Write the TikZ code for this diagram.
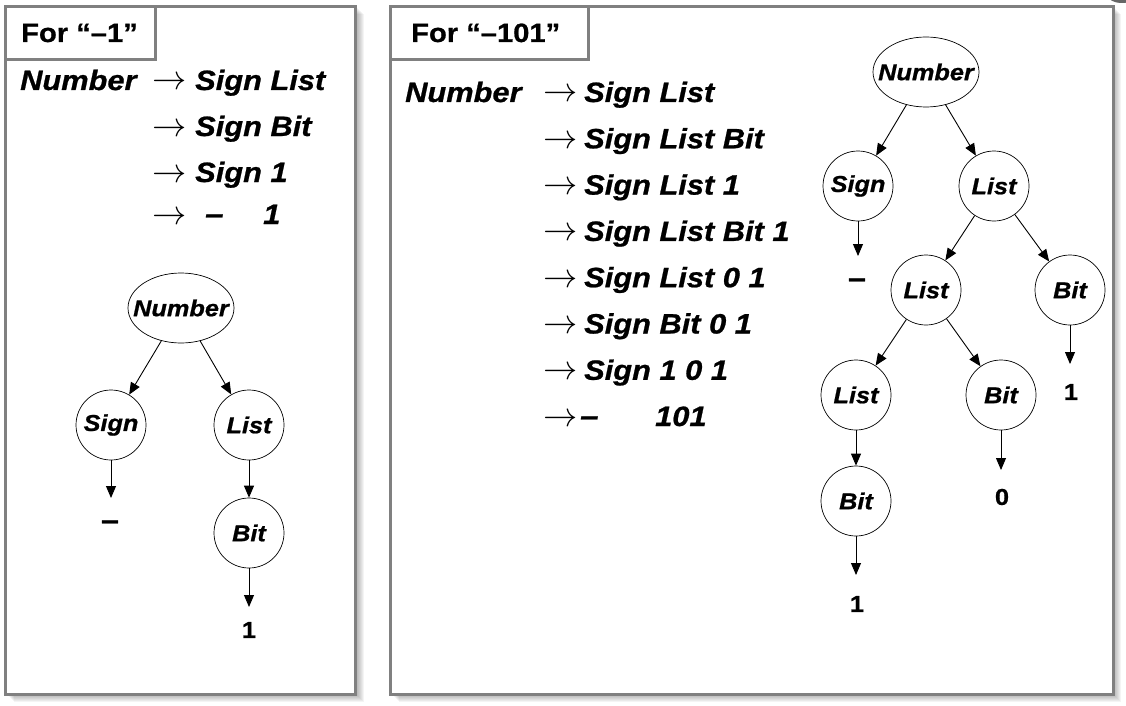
\documentclass[tikz,border=0pt]{standalone}
\usepackage{fontspec}
\newfontfamily\af[FakeStretch=1.1,FakeBold=0.8]{Liberation Sans}
\usetikzlibrary{arrows.meta,shapes.geometric}
\definecolor{bord}{HTML}{808080}
\begin{document}
\begin{tikzpicture}[x=1pt,y=-1pt,
  tlab/.style={inner sep=0pt,font=\af\bfseries\itshape\fontsize{23}{23}\selectfont},
  nt/.style={circle,draw,line width=0.7pt,minimum size=70pt,inner sep=0pt,font=\af\bfseries\itshape\fontsize{23}{23}\selectfont},
  ntop/.style={ellipse,draw,line width=0.7pt,minimum width=106pt,minimum height=70pt,inner sep=0pt},
  term/.style={inner sep=0pt,font=\af\bfseries\fontsize{23}{23}\selectfont},
  tdash/.style={inner sep=0pt,font=\af\bfseries\fontsize{29}{29}\selectfont},
  arr/.style={line width=0.9pt,-{Triangle[length=12pt,width=10pt]}},
  der/.style={anchor=base west,inner sep=0pt,font=\af\bfseries\itshape\fontsize{28}{28}\selectfont},
  ddash/.style={anchor=base west,inner sep=0pt,font=\af\bfseries\itshape\fontsize{30}{30}\selectfont},
  ra/.style={anchor=base west,inner sep=0pt,scale=1.65,font=\fontsize{20}{20}\selectfont},
  ttl/.style={anchor=base west,inner sep=0pt,font=\af\bfseries\fontsize{26.5}{26.5}\selectfont},
  panel/.style={draw=bord,line width=3pt,fill=white},
  tbox/.style={draw=bord,line width=3pt},
  shad/.style={fill=black,opacity=0.045}
]
\useasboundingbox (0,0) rectangle (1126,706);
% top-right blob
\fill[black!75,opacity=0.8] (1122,-4) ellipse [x radius=14pt,y radius=7pt];
% shadows
\foreach \k in {1,...,8}{
  \fill[shad] (5.5+\k,6.5+\k) rectangle (355.5+\k,694+\k);
  \fill[shad] (390.7+\k,6.5+\k) rectangle (1113+\k,694+\k);
}
% panels
\draw[panel] (5.5,6.5) rectangle (355.5,694);
\draw[panel] (390.7,6.5) rectangle (1113,694);
\draw[tbox] (5.5,6.5) rectangle (155.5,59.5);
\draw[tbox] (390.7,6.5) rectangle (588,59.5);
% titles
\node[ttl] (t1) at (21,42) {For “–1”};
\node[ttl] (t2) at (411,42) {For “–101”};
% left derivation
\node[der] (lNum) at (20,90) {Number};
\node[ra] (la1) at (152,90) {$\rightarrow$};
\node[der] (ld1) at (195,90) {Sign List};
\node[ra] (la2) at (152,136) {$\rightarrow$};
\node[der] (ld2) at (195,136) {Sign Bit};
\node[ra] (la3) at (152,182) {$\rightarrow$};
\node[der] (ld3) at (195,182) {Sign 1};
\node[ra] (la4) at (152,224) {$\rightarrow$};
\node[ddash] (ld4a) at (205,224) {–};
\node[der] (ld4b) at (263,224) {1};
% right derivation
\node[der] (rNum) at (405,102) {Number};
\node[ra] (ra1) at (543,102) {$\rightarrow$};
\node[der] (rd1) at (584,102) {Sign List};
\node[ra] (ra2) at (543,148.3) {$\rightarrow$};
\node[der] (rd2) at (584,148.3) {Sign List Bit};
\node[ra] (ra3) at (543,194.6) {$\rightarrow$};
\node[der] (rd3) at (584,194.6) {Sign List 1};
\node[ra] (ra4) at (543,240.9) {$\rightarrow$};
\node[der] (rd4) at (584,240.9) {Sign List Bit 1};
\node[ra] (ra5) at (543,287.2) {$\rightarrow$};
\node[der] (rd5) at (584,287.2) {Sign List 0 1};
\node[ra] (ra6) at (543,333.5) {$\rightarrow$};
\node[der] (rd6) at (584,333.5) {Sign Bit 0 1};
\node[ra] (ra7) at (543,379.8) {$\rightarrow$};
\node[der] (rd7) at (584,379.8) {Sign 1 0 1};
\node[ra] (ra8) at (543,426) {$\rightarrow$};
\node[ddash] (rd8a) at (580,426) {–};
\node[der] (rd8b) at (655,426) {101};
% left tree
\node[ntop,label={[tlab]center:Number}] (ln) at (181,308) {};
\node[nt] (ls) at (111,425) {Sign};
\node[nt] (ll) at (249,425) {List};
\node[nt] (lb) at (249,533) {Bit};
\coordinate (lsT) at (111,498);
\coordinate (lbT) at (249,607);
\node[tdash] (lm) at (110,525) {–};
\node[term] (l1) at (249,630) {1};
\draw[arr] (ln) -- (ls);
\draw[arr] (ln) -- (ll);
\draw[arr] (ls) -- (lsT);
\draw[arr] (ll) -- (lb);
\draw[arr] (lb) -- (lbT);
% right tree
\node[ntop,label={[tlab]center:Number}] (rn) at (926,72) {};
\node[nt] (rs) at (858,186) {Sign};
\node[nt] (rl) at (994,186) {List};
\node[nt] (rl2) at (926,290) {List};
\node[nt] (rb) at (1070,290) {Bit};
\node[nt] (rl3) at (856,395) {List};
\node[nt] (rb2) at (1001,395) {Bit};
\node[nt] (rb3) at (856,501) {Bit};
\coordinate (rsT) at (858,256);
\coordinate (rbT) at (1070,364);
\coordinate (rb2T) at (1001,470);
\coordinate (rb3T) at (856,575);
\node[tdash] (rm) at (857,283) {–};
\node[term] (r1) at (1071,392) {1};
\node[term] (r0) at (1002,497) {0};
\node[term] (r1b) at (857,604) {1};
\draw[arr] (rn) -- (rs);
\draw[arr] (rn) -- (rl);
\draw[arr] (rs) -- (rsT);
\draw[arr] (rl) -- (rl2);
\draw[arr] (rl) -- (rb);
\draw[arr] (rb) -- (rbT);
\draw[arr] (rl2) -- (rl3);
\draw[arr] (rl2) -- (rb2);
\draw[arr] (rb2) -- (rb2T);
\draw[arr] (rl3) -- (rb3);
\draw[arr] (rb3) -- (rb3T);
\end{tikzpicture}
\end{document}
